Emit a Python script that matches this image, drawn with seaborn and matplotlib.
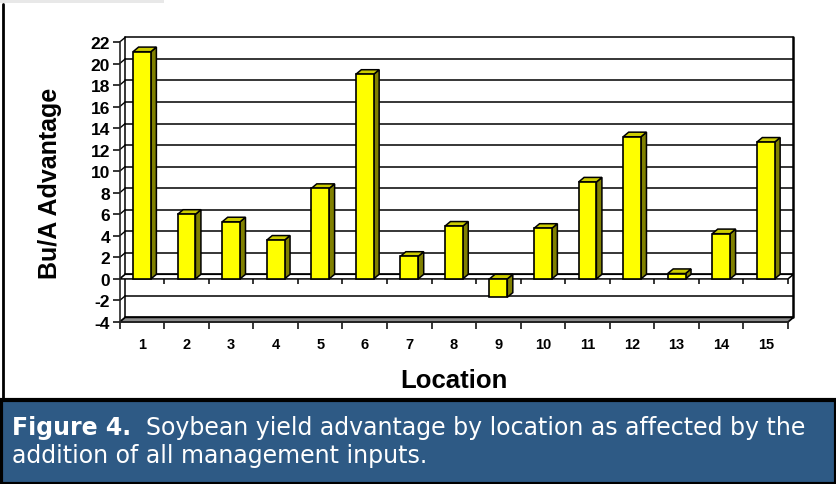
import matplotlib
matplotlib.use('Agg')
import matplotlib.pyplot as plt
import seaborn as sns
import pandas as pd
from matplotlib.patches import Rectangle

# data
locations = ['1', '2', '3', '4', '5', '6', '7', '8', '9', '10', '11', '12', '13', '14', '15']
advantage = [21.1, 6.0, 5.3, 3.6, 8.4, 19.0, 2.1, 4.9, -1.7, 4.7, 9.0, 13.2, 0.5, 4.2, 12.7]
y_ticks = [-4, -2, 0, 2, 4, 6, 8, 10, 12, 14, 16, 18, 20, 22]

caption_bold = 'Figure 4.'
caption_rest = '  Soybean yield advantage by location as affected by the'
caption_line2 = 'addition of all management inputs.'

df = pd.DataFrame({'Location': locations, 'Advantage': advantage})

sns.set_style('white')
plt.rcParams['font.family'] = ['Liberation Sans', 'DejaVu Sans']
plt.rcParams['text.color'] = 'black'
plt.rcParams['axes.labelcolor'] = 'black'
plt.rcParams['xtick.color'] = 'black'
plt.rcParams['ytick.color'] = 'black'

W, H = 836, 485
fig = plt.figure(figsize=(W / 100, H / 100), dpi=100)
fig.patch.set_facecolor('white')

# plot area (front plane) in pixels
x0, x1 = 119.7, 788.0
y_top, y_bot = 43.0, 323.0
ax = fig.add_axes([x0 / W, 1 - y_bot / H, (x1 - x0) / W, (y_bot - y_top) / H])
ax.set_facecolor('none')

xmin, xmax = -0.5, 14.5
ymin, ymax = -4, 22
# 3d depth offsets (data units)
dx = 5.5 / ((x1 - x0) / 15)
dy = 4.6 / ((y_bot - y_top) / 26)

# back wall grid lines
for v in y_ticks:
    ax.plot([xmin + dx, xmax + dx], [v + dy, v + dy], color='black', lw=1.1, zorder=0.5, clip_on=False)
    # slants from the front axis to the back wall
    ax.plot([xmin, xmin + dx], [v, v + dy], color='black', lw=1.0, zorder=0.5, clip_on=False)
# side walls
ax.plot([xmin + dx, xmin + dx], [ymin + dy, ymax + dy], color='black', lw=1.1, zorder=0.5, clip_on=False)
ax.plot([xmax + dx, xmax + dx], [ymin + dy, ymax + dy], color='black', lw=1.8, zorder=0.5, clip_on=False)

# floor at -4
ax.fill([xmin, xmax, xmax + dx, xmin + dx], [ymin, ymin, ymin + dy, ymin + dy],
        facecolor='#8c8c8c', edgecolor='black', lw=1.2, zorder=0.8, clip_on=False)
# plane at 0
ax.fill([xmin, xmax, xmax + dx, xmin + dx], [0, 0, dy, dy],
        facecolor='white', edgecolor='black', lw=1.1, zorder=0.8, clip_on=False)
bounds = [b - 0.5 for b in range(16)]
ax.vlines(bounds[1:], -0.45, 0, color='black', lw=1.1, zorder=0.8, clip_on=False)

# front faces of the bars
sns.barplot(data=df, x='Location', y='Advantage', color='#FFFF00', saturation=1,
            edgecolor='black', linewidth=1.2, width=0.4, ax=ax, zorder=3)

# side and top faces
for i, v in enumerate(advantage):
    lo, hi = min(v, 0), max(v, 0)
    xr = i + 0.2
    xl = i - 0.2
    ax.fill([xr, xr + dx, xr + dx, xr], [lo, lo + dy, hi + dy, hi],
            facecolor='#808000', edgecolor='black', lw=1.1, zorder=2.5, clip_on=False)
    ax.fill([xl, xr, xr + dx, xl + dx], [hi, hi, hi + dy, hi + dy],
            facecolor='#CCCC00', edgecolor='black', lw=1.1, zorder=2.5, clip_on=False)

ax.set_xlim(xmin, xmax)
ax.set_ylim(ymin, ymax)
sns.despine(ax=ax, top=True, right=True)
ax.spines['left'].set_linewidth(1.2)
ax.spines['bottom'].set_linewidth(1.2)
ax.spines['left'].set_zorder(4)

ax.set_yticks(y_ticks)
ax.set_yticklabels([str(t) for t in y_ticks], fontsize=12.5, fontweight='bold')
ax.tick_params(axis='y', direction='out', length=5, width=1.1, pad=2, left=True)
ax.set_xticks(range(15))
ax.set_xticklabels(locations, fontsize=10.5, fontweight='bold')
ax.set_xticks(bounds, minor=True)
ax.tick_params(axis='x', which='major', length=0, pad=11)
ax.tick_params(axis='x', which='minor', direction='out', length=5, width=1.1, bottom=True)

ax.set_xlabel('Location', fontsize=18.5, fontweight='bold')
ax.set_ylabel('Bu/A Advantage', fontsize=18, fontweight='bold')
ax.xaxis.set_label_coords(0.5, (y_bot - 369) / (y_bot - y_top))
ax.yaxis.set_label_coords((62 - x0) / (x1 - x0), 0.5)

# frame of the chart panel
fig.add_artist(Rectangle((0, 1 - 4 / H), 164 / W, 4 / H, transform=fig.transFigure,
                         facecolor='#e8e8e8', edgecolor='none'))
fig.add_artist(plt.Line2D([3 / W, 3 / W], [1 - 5 / H, 1 - 400 / H], color='black', lw=2,
                          transform=fig.transFigure))

# caption panel
fig.add_artist(Rectangle((0.5 / W, 0.5 / H), (W - 1) / W, (H - 401) / H, transform=fig.transFigure,
                         facecolor='#2E5A85', edgecolor='black', lw=3))
renderer = fig.canvas.get_renderer()
t1 = fig.text(12 / W, 1 - 435 / H, caption_bold, color='white', fontsize=17, fontweight='bold',
              family='DejaVu Sans', va='baseline')
bb = t1.get_window_extent(renderer)
fig.text(bb.x1 / W, 1 - 435 / H, caption_rest, color='white', fontsize=17,
         family='DejaVu Sans', va='baseline')
fig.text(12 / W, 1 - 463 / H, caption_line2, color='white', fontsize=17,
         family='DejaVu Sans', va='baseline')

plt.savefig('out.png', dpi=100)
plt.close()
